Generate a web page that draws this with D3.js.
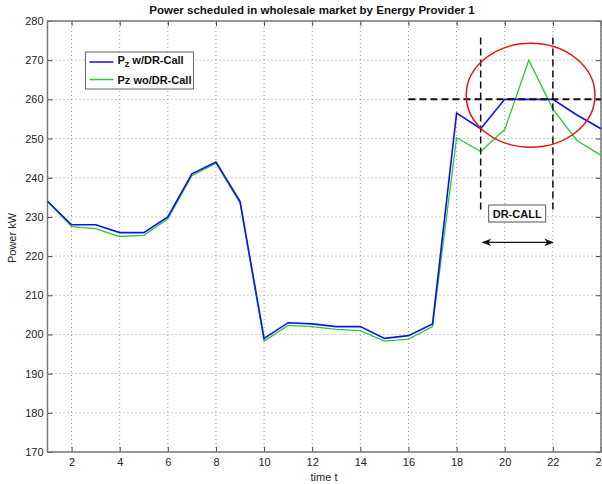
<!DOCTYPE html>
<html>
<head>
<meta charset="utf-8">
<script src="https://cdn.jsdelivr.net/npm/d3@7"></script>
<style>
  body { margin: 0; background: #fff; }
  text { font-family: "Liberation Sans", Arial, sans-serif; }
</style>
</head>
<body>
<svg id="chart" width="602" height="484"></svg>
<script>
// time steps
const times = d3.range(1, 25)
// Pz with DR-Call
const withDR = [234, 228, 228, 226, 226, 230, 241, 244, 234, 199, 203, 202.7,
  202, 202, 199, 199.7, 202.7, 256.5, 252.5, 260, 260, 260, 256, 252.5]
// Pz without DR-Call
const withoutDR = [234, 227.5, 227, 225, 225.3, 229.5, 240.5, 243.7, 233.5, 198.3, 202.3, 202,
  201.3, 201, 198.3, 198.8, 202, 250.2, 246.7, 252.3, 270, 257.5, 249.5, 245.7]
const xTicks = [2, 4, 6, 8, 10, 12, 14, 16, 18, 20, 22, 24]
const yTicks = [170, 180, 190, 200, 210, 220, 230, 240, 250, 260, 270, 280]
// DR call window / annotations (in data units)
const drStart = 19, drEnd = 22, drLevel = 260

const svg = d3.select('#chart')
const x = d3.scaleLinear().domain([1, 24]).range([47.5, 601])
const y = d3.scaleLinear().domain([170, 280]).range([452, 21])

// grid
const grid = svg.append('g').attr('id', 'gridG')
grid.selectAll('.gx').data(xTicks).enter().append('line')
  .attr('x1', d => x(d)).attr('x2', d => x(d))
  .attr('y1', y(170)).attr('y2', y(280))
  .attr('stroke', '#999').attr('stroke-dasharray', '1,3')
grid.selectAll('.gy').data(yTicks).enter().append('line')
  .attr('x1', x(1)).attr('x2', x(24))
  .attr('y1', d => y(d)).attr('y2', d => y(d))
  .attr('stroke', '#999').attr('stroke-dasharray', '1,3')

// axes, ticks pointing inward
const xAxis = svg.append('g').attr('transform', 'translate(0,' + y(170) + ')')
  .call(d3.axisBottom(x).tickValues(xTicks).tickSize(-5).tickPadding(6).tickSizeOuter(0))
const yAxis = svg.append('g').attr('transform', 'translate(' + x(1) + ',0)')
  .call(d3.axisLeft(y).tickValues(yTicks).tickSize(-5).tickPadding(4).tickSizeOuter(0))
;[xAxis, yAxis].forEach(a => {
  a.select('.domain').remove()
  a.selectAll('line').attr('stroke', '#444')
  a.selectAll('text').attr('font-size', 11).attr('fill', '#222')
    .attr('font-family', '"Liberation Sans", Arial, sans-serif')
})
svg.append('g').attr('transform', 'translate(' + x(24) + ',0)')
  .call(d3.axisRight(y).tickValues(yTicks).tickSize(-5).tickFormat(''))
  .call(g => g.select('.domain').remove())
  .selectAll('line').attr('stroke', '#444')
svg.append('g').attr('transform', 'translate(0,' + y(280) + ')')
  .call(d3.axisTop(x).tickValues(xTicks).tickSize(-5).tickFormat(''))
  .call(g => g.select('.domain').remove())
  .selectAll('line').attr('stroke', '#444')

// frame
svg.append('rect')
  .attr('x', x(1)).attr('y', y(280))
  .attr('width', x(24) - x(1)).attr('height', y(170) - y(280))
  .attr('fill', 'none').attr('stroke', '#777').attr('stroke-width', 1.5)

// series
const line = d3.line().x((d, i) => x(times[i])).y(d => y(d))
svg.append('path').datum(withoutDR)
  .attr('d', line).attr('fill', 'none').attr('stroke', '#22cc33').attr('stroke-width', 1.3)
svg.append('path').datum(withDR)
  .attr('d', line).attr('fill', 'none').attr('stroke', '#1111ee').attr('stroke-width', 1.6)

// annotations
const ann = svg.append('g').attr('id', 'annG')
ann.append('line')
  .attr('x1', x(16)).attr('x2', x(24))
  .attr('y1', y(drLevel)).attr('y2', y(drLevel))
  .attr('stroke', '#111').attr('stroke-width', 2).attr('stroke-dasharray', '7,4')
ann.selectAll('.vdash').data([drStart, drEnd]).enter().append('line')
  .attr('x1', d => x(d)).attr('x2', d => x(d))
  .attr('y1', y(275.8)).attr('y2', y(231.3))
  .attr('stroke', '#111').attr('stroke-width', 1.5).attr('stroke-dasharray', '7,4')
ann.append('ellipse')
  .attr('cx', (x(drStart - 0.6) + x(drEnd + 1.75)) / 2)
  .attr('cy', (y(274.3) + y(247.8)) / 2)
  .attr('rx', (x(drEnd + 1.75) - x(drStart - 0.6)) / 2)
  .attr('ry', (y(247.8) - y(274.3)) / 2)
  .attr('fill', 'none').attr('stroke', '#ee1111').attr('stroke-width', 1.5)

// DR-CALL box
const bx = x(drStart) + 8, bw = 57
ann.append('rect')
  .attr('x', bx).attr('y', 205).attr('width', bw).attr('height', 17)
  .attr('fill', '#fff').attr('stroke', '#555').attr('stroke-width', 1)
ann.append('text')
  .attr('x', bx + bw / 2).attr('y', 218)
  .attr('text-anchor', 'middle').attr('font-size', 11).attr('font-weight', 'bold')
  .attr('fill', '#111').text('DR-CALL')

// double-headed arrow
const defs = svg.append('defs')
;['arrowEnd', 'arrowStart'].forEach((id, k) => {
  defs.append('marker').attr('id', id)
    .attr('viewBox', '0 0 10 10').attr('refX', 9).attr('refY', 5)
    .attr('markerWidth', 8).attr('markerHeight', 8)
    .attr('orient', k === 0 ? 'auto' : 'auto-start-reverse')
    .append('path').attr('d', 'M0,1L10,5L0,9L3,5Z').attr('fill', '#111')
})
ann.append('line')
  .attr('x1', x(drStart) + 2).attr('x2', x(drEnd))
  .attr('y1', y(223.5)).attr('y2', y(223.5))
  .attr('stroke', '#111').attr('stroke-width', 1.2)
  .attr('marker-end', 'url(#arrowEnd)').attr('marker-start', 'url(#arrowStart)')

// legend
const lg = svg.append('g').attr('transform', 'translate(85.5,52)')
lg.append('rect').attr('width', 108).attr('height', 37)
  .attr('fill', '#fff').attr('stroke', '#666').attr('stroke-width', 1)
lg.append('line').attr('x1', 4).attr('x2', 28).attr('y1', 10).attr('y2', 10)
  .attr('stroke', '#1111ee').attr('stroke-width', 1.5)
lg.append('line').attr('x1', 4).attr('x2', 28).attr('y1', 27.5).attr('y2', 27.5)
  .attr('stroke', '#22cc33').attr('stroke-width', 1.5)
const t1 = lg.append('text').attr('x', 32).attr('y', 12).attr('font-size', 11)
  .attr('font-weight', 'bold').attr('fill', '#111')
t1.append('tspan').text('P')
t1.append('tspan').attr('dy', 3).attr('font-size', 9).text('z')
t1.append('tspan').attr('dy', -3).attr('dx', 3).text('w/DR-Call')
lg.append('text').attr('x', 32).attr('y', 32).attr('font-size', 11)
  .attr('font-weight', 'bold').attr('fill', '#111').text('Pz wo/DR-Call')

// titles
svg.append('text').attr('x', 312).attr('y', 14)
  .attr('text-anchor', 'middle').attr('font-size', 11.5).attr('font-weight', 'bold')
  .attr('fill', '#111').text('Power scheduled in wholesale market by Energy Provider 1')
svg.append('text').attr('x', 324).attr('y', 481)
  .attr('text-anchor', 'middle').attr('font-size', 11).attr('fill', '#222').text('time t')
svg.append('text').attr('transform', 'translate(16,238) rotate(-90)')
  .attr('text-anchor', 'middle').attr('font-size', 11).attr('fill', '#222').text('Power kW')
</script>
</body>
</html>
